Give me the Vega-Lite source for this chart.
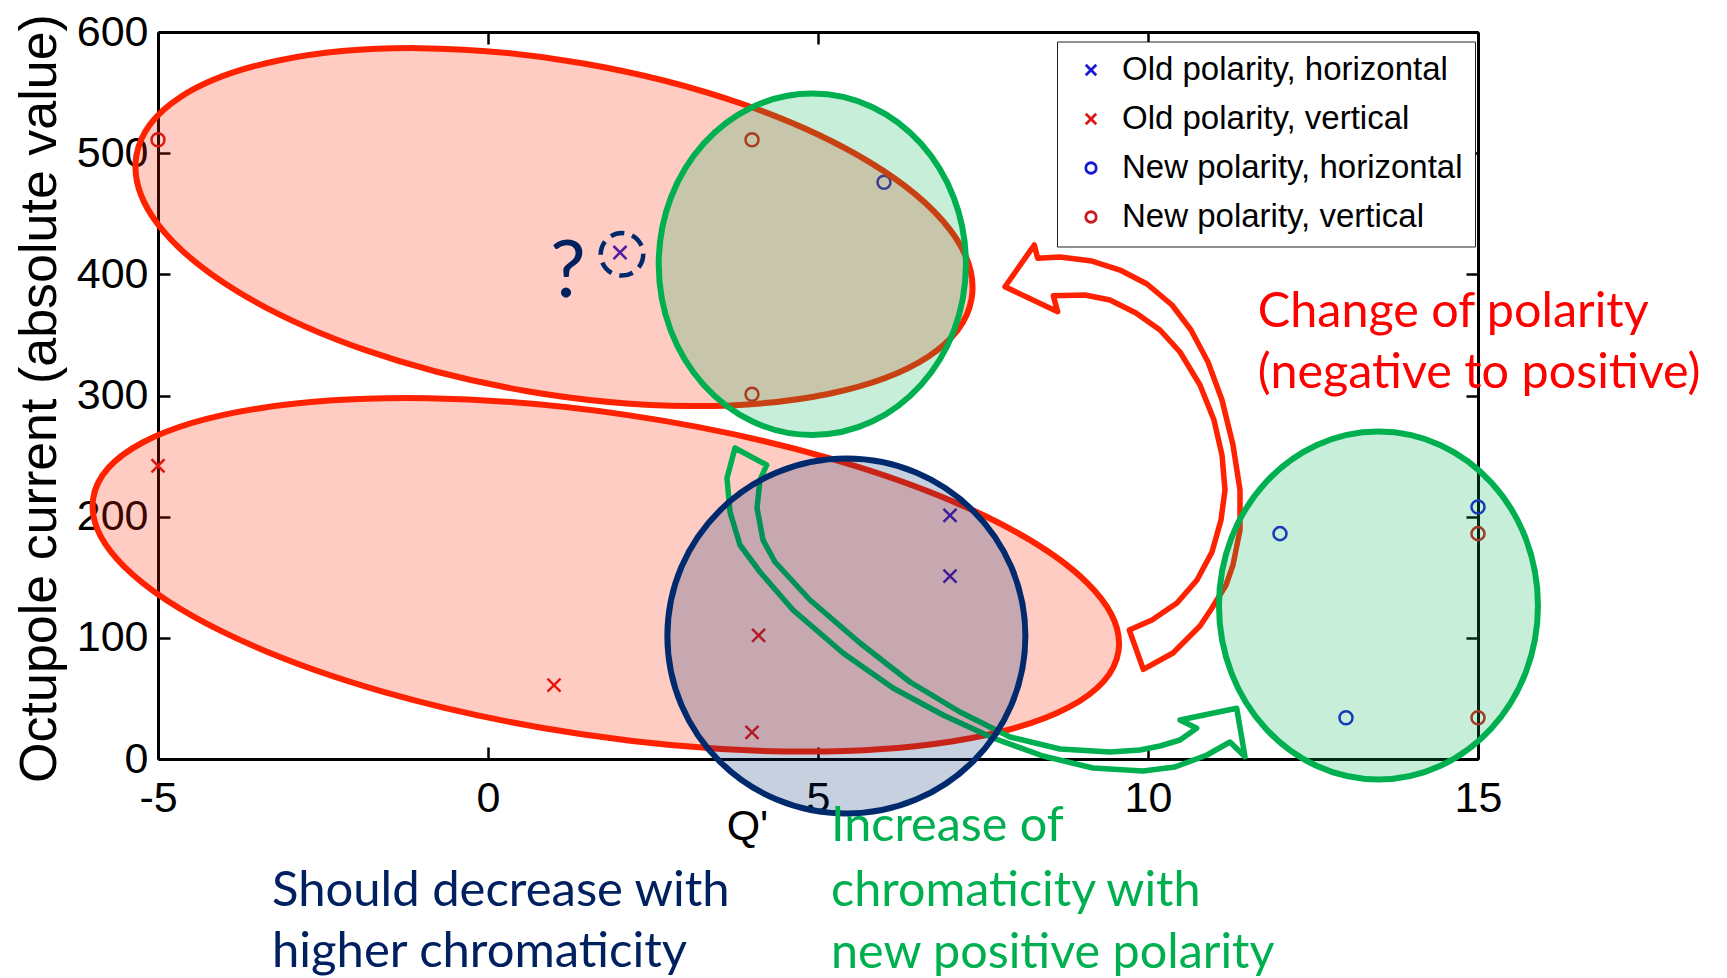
{
  "$schema": "https://vega.github.io/schema/vega-lite/v6.json",
  "width": 1320,
  "height": 727,
  "autosize": {"type": "none"},
  "padding": {"left": 158, "top": 32, "right": 249, "bottom": 219},
  "background": "white",
  "config": {"view": {"stroke": null}, "axis": {"grid": false}},
  "resolve": {"axis": {"x": "independent", "y": "independent"}},
  "layer": [
    {
      "data": {"values": [
        {"x": 2, "y": 418, "series": "Old polarity, horizontal"},
        {"x": 7, "y": 201, "series": "Old polarity, horizontal"},
        {"x": 7, "y": 151, "series": "Old polarity, horizontal"},
        {"x": -5, "y": 242, "series": "Old polarity, vertical"},
        {"x": 1, "y": 61, "series": "Old polarity, vertical"},
        {"x": 4.1, "y": 102, "series": "Old polarity, vertical"},
        {"x": 4, "y": 22, "series": "Old polarity, vertical"},
        {"x": 6, "y": 476, "series": "New polarity, horizontal"},
        {"x": 12, "y": 186, "series": "New polarity, horizontal"},
        {"x": 13, "y": 34, "series": "New polarity, horizontal"},
        {"x": 15, "y": 208, "series": "New polarity, horizontal"},
        {"x": -5, "y": 511, "series": "New polarity, vertical"},
        {"x": 4, "y": 511, "series": "New polarity, vertical"},
        {"x": 4, "y": 301, "series": "New polarity, vertical"},
        {"x": 15, "y": 186, "series": "New polarity, vertical"},
        {"x": 15, "y": 34, "series": "New polarity, vertical"}
      ]},
      "mark": {"type": "point", "filled": false, "size": 170, "strokeWidth": 2.5, "opacity": 1},
      "encoding": {
        "x": {"field": "x", "type": "quantitative", "scale": {"domain": [-5, 15], "nice": false, "zero": false},
          "axis": {"orient": "bottom", "values": [-5, 0, 5, 10, 15], "labelExpr": "'' + datum.value",
            "title": "Q'", "titleFont": "Liberation Sans", "titleFontSize": 43, "titleFontWeight": "normal", "titleColor": "black",
            "titleX": 589, "titleY": 80, "titleAlign": "center", "titleBaseline": "alphabetic", "titleAnchor": null,
            "labelFont": "Liberation Sans", "labelFontSize": 43, "labelColor": "black", "labelPadding": 30,
            "labelFlush": false, "labelOverlap": false, "tickSize": -12, "tickWidth": 2.5, "tickColor": "black",
            "domainColor": "black", "domainWidth": 3, "grid": false}},
        "y": {"field": "y", "type": "quantitative", "scale": {"domain": [0, 600], "nice": false, "zero": false},
          "axis": {"orient": "left", "values": [0, 100, 200, 300, 400, 500, 600], "labelExpr": "'' + datum.value",
            "title": "Octupole current (absolute value)", "titleFont": "Liberation Sans", "titleFontSize": 52, "titleFontWeight": "normal",
            "titleColor": "black", "titleX": -103, "titleY": 366, "titleAngle": -90, "titleAlign": "center", "titleBaseline": "alphabetic", "titleAnchor": null,
            "labelFont": "Liberation Sans", "labelFontSize": 43, "labelColor": "black", "labelPadding": 22,
            "labelFlush": false, "labelOverlap": false, "labelBaseline": "middle", "tickSize": -12, "tickWidth": 2.5, "tickColor": "black",
            "domainColor": "black", "domainWidth": 3, "grid": false}},
        "color": {"field": "series", "type": "nominal",
          "scale": {"domain": ["Old polarity, horizontal", "Old polarity, vertical", "New polarity, horizontal", "New polarity, vertical"],
            "range": ["#1a1ad6", "#dd1515", "#1a1ad6", "#cc1a1a"]},
          "legend": {"title": null, "orient": "none", "legendX": 899, "legendY": 9.5, "labelFont": "Liberation Sans", "labelFontSize": 33,
            "labelColor": "black", "labelLimit": 600, "symbolSize": 110, "symbolStrokeWidth": 2.8, "strokeColor": "#222222",
            "fillColor": "white", "padding": 12, "rowPadding": 15, "symbolOffset": 5.5, "labelOffset": 14.5}},
        "shape": {"field": "series", "type": "nominal",
          "scale": {"domain": ["Old polarity, horizontal", "Old polarity, vertical", "New polarity, horizontal", "New polarity, vertical"],
            "range": ["M-1,-1L1,1M-1,1L1,-1", "M-1,-1L1,1M-1,1L1,-1", "circle", "circle"]},
          "legend": {"title": null, "orient": "none", "legendX": 899, "legendY": 9.5, "labelFont": "Liberation Sans", "labelFontSize": 33,
            "labelColor": "black", "labelLimit": 600, "symbolSize": 110, "symbolStrokeWidth": 2.8, "strokeColor": "#222222",
            "fillColor": "white", "padding": 12, "rowPadding": 15, "symbolOffset": 5.5, "labelOffset": 14.5}}
      }
    },
    {
      "data": {"values": [{"x": -5, "y": 0}]},
      "mark": {"type": "point", "opacity": 0},
      "encoding": {
        "x": {"field": "x", "type": "quantitative", "scale": {"domain": [-5, 15], "nice": false, "zero": false},
          "axis": {"orient": "top", "values": [-5, 0, 5, 10, 15], "labels": false, "title": null, "tickSize": -12, "tickWidth": 2.5,
            "tickColor": "black", "domainColor": "black", "domainWidth": 3, "grid": false}},
        "y": {"field": "y", "type": "quantitative", "scale": {"domain": [0, 600], "nice": false, "zero": false},
          "axis": {"orient": "right", "values": [0, 100, 200, 300, 400, 500, 600], "labels": false, "title": null, "tickSize": -12, "tickWidth": 2.5,
            "tickColor": "black", "domainColor": "black", "domainWidth": 3, "grid": false}}
      }
    },
    {
      "data": {"values": [{"x": 1.0, "y": 439}]},
      "mark": {"type": "point", "shape": "M423.7,0C423.7,91.85,234,166.3,0,166.3C-234,166.3,-423.7,91.85,-423.7,0C-423.7,-91.85,-234,-166.3,0,-166.3C234,-166.3,423.7,-91.85,423.7,0Z",
        "size": 4, "angle": 9.75, "filled": true, "fill": "#ff2200", "fillOpacity": 0.23, "stroke": "#ff2200", "strokeWidth": 6, "opacity": 1},
      "encoding": {
        "x": {"field": "x", "type": "quantitative", "scale": {"domain": [-5, 15], "nice": false, "zero": false}, "axis": null},
        "y": {"field": "y", "type": "quantitative", "scale": {"domain": [0, 600], "nice": false, "zero": false}, "axis": null}
      }
    },
    {
      "data": {"values": [{"x": 1.785, "y": 152}]},
      "mark": {"type": "point", "shape": "M518.3,0C518.3,89,286.3,161.2,0,161.2C-286.3,161.2,-518.3,89,-518.3,0C-518.3,-89,-286.3,-161.2,0,-161.2C286.3,-161.2,518.3,-89,518.3,0Z",
        "size": 4, "angle": 8.46, "filled": true, "fill": "#ff2200", "fillOpacity": 0.23, "stroke": "#ff2200", "strokeWidth": 6, "opacity": 1},
      "encoding": {
        "x": {"field": "x", "type": "quantitative", "scale": {"domain": [-5, 15], "nice": false, "zero": false}, "axis": null},
        "y": {"field": "y", "type": "quantitative", "scale": {"domain": [0, 600], "nice": false, "zero": false}, "axis": null}
      }
    },
    {
      "data": {"values": [{"x": 8, "y": 0}]},
      "mark": {"type": "point", "shape": "M-281,-311L-289,-281L-286,-247L-276,-214L-256,-187L-223,-149L-173,-106L-123,-71L-73,-44L-23,-21L27,-3L77,9L127,12L159,8L191,-4L214,-17L229,-2.3L220.7,-50.7L164,-39L180.7,-30.7L164,-19L144,-13L124,-9L94,-7L44,-10L-6,-22L-56,-47L-106,-77L-156,-116L-206,-159L-241,-197L-253,-219L-259,-251L-256,-279L-249.3,-294Z",
        "size": 4, "filled": false, "stroke": "#00b050", "strokeWidth": 5.5, "strokeJoin": "round", "opacity": 1},
      "encoding": {
        "x": {"field": "x", "type": "quantitative", "scale": {"domain": [-5, 15], "nice": false, "zero": false}, "axis": null},
        "y": {"field": "y", "type": "quantitative", "scale": {"domain": [0, 600], "nice": false, "zero": false}, "axis": null}
      }
    },
    {
      "data": {"values": [{"x": 12, "y": 350}]},
      "mark": {"type": "point", "shape": "M-275,-48.2L-245.7,-89.9L-242.3,-76.6L-220,-77.9L-188,-73.9L-160,-64.9L-133,-50.9L-108,-29.9L-89,-4.9L-72,27.1L-58,65.1L-47,110.1L-40,155.1L-40,195.1L-47,230.1L-54,250.1L-68,273.1L-80,291.1L-107,318.1L-136.7,334.4L-150.7,295.1L-128,285.1L-103,268.1L-83,245.1L-68,217.1L-59,185.1L-55,155.1L-58,120.1L-66,85.1L-80,50.1L-100,17.1L-120,-4.9L-144,-21.9L-170,-34.9L-195,-39.9L-226.7,-39.2L-222.3,-23.2Z",
        "size": 4, "filled": false, "stroke": "#ff2200", "strokeWidth": 5.5, "strokeJoin": "round", "opacity": 1},
      "encoding": {
        "x": {"field": "x", "type": "quantitative", "scale": {"domain": [-5, 15], "nice": false, "zero": false}, "axis": null},
        "y": {"field": "y", "type": "quantitative", "scale": {"domain": [0, 600], "nice": false, "zero": false}, "axis": null}
      }
    },
    {
      "data": {"values": [{"x": 4.914, "y": 408.3}]},
      "mark": {"type": "point", "shape": "M153.6,0C153.6,94.3,84.8,170.7,0,170.7C-84.8,170.7,-153.6,94.3,-153.6,0C-153.6,-94.3,-84.8,-170.7,0,-170.7C84.8,-170.7,153.6,-94.3,153.6,0Z",
        "size": 4, "filled": true, "fill": "#00b050", "fillOpacity": 0.22, "stroke": "#00b050", "strokeWidth": 6, "opacity": 1},
      "encoding": {
        "x": {"field": "x", "type": "quantitative", "scale": {"domain": [-5, 15], "nice": false, "zero": false}, "axis": null},
        "y": {"field": "y", "type": "quantitative", "scale": {"domain": [0, 600], "nice": false, "zero": false}, "axis": null}
      }
    },
    {
      "data": {"values": [{"x": 13.492, "y": 126.7}]},
      "mark": {"type": "point", "shape": "M159.5,0C159.5,96.1,88.1,174,0,174C-88.1,174,-159.5,96.1,-159.5,0C-159.5,-96.1,-88.1,-174,0,-174C88.1,-174,159.5,-96.1,159.5,0Z",
        "size": 4, "filled": true, "fill": "#00b050", "fillOpacity": 0.22, "stroke": "#00b050", "strokeWidth": 6, "opacity": 1},
      "encoding": {
        "x": {"field": "x", "type": "quantitative", "scale": {"domain": [-5, 15], "nice": false, "zero": false}, "axis": null},
        "y": {"field": "y", "type": "quantitative", "scale": {"domain": [0, 600], "nice": false, "zero": false}, "axis": null}
      }
    },
    {
      "data": {"values": [{"x": 5.43, "y": 101.5}]},
      "mark": {"type": "point", "shape": "M179,0C179,98,98.9,177.5,0,177.5C-98.9,177.5,-179,98,-179,0C-179,-98,-98.9,-177.5,0,-177.5C98.9,-177.5,179,-98,179,0Z",
        "size": 4, "filled": true, "fill": "#002a6e", "fillOpacity": 0.22, "stroke": "#002a6e", "strokeWidth": 6, "opacity": 1},
      "encoding": {
        "x": {"field": "x", "type": "quantitative", "scale": {"domain": [-5, 15], "nice": false, "zero": false}, "axis": null},
        "y": {"field": "y", "type": "quantitative", "scale": {"domain": [0, 600], "nice": false, "zero": false}, "axis": null}
      }
    },
    {
      "data": {"values": [{"x": 2.03, "y": 416.5}]},
      "mark": {"type": "point", "shape": "circle", "size": 1810, "filled": false, "stroke": "#002a6e", "strokeWidth": 4.5, "strokeDash": [14, 8], "opacity": 1},
      "encoding": {
        "x": {"field": "x", "type": "quantitative", "scale": {"domain": [-5, 15], "nice": false, "zero": false}, "axis": null},
        "y": {"field": "y", "type": "quantitative", "scale": {"domain": [0, 600], "nice": false, "zero": false}, "axis": null}
      }
    },
    {
      "data": {"values": [{"x": 1.212, "y": 381.3, "t": "?"}]},
      "mark": {"type": "text", "font": "Lato", "fontSize": 80, "fill": "#002060", "align": "center", "baseline": "alphabetic"},
      "encoding": {
        "x": {"field": "x", "type": "quantitative", "scale": {"domain": [-5, 15], "nice": false, "zero": false}, "axis": null},
        "y": {"field": "y", "type": "quantitative", "scale": {"domain": [0, 600], "nice": false, "zero": false}, "axis": null},
        "text": {"field": "t"}
      }
    },
    {
      "data": {"values": [
        {"x": 11.664, "y": 356.9, "t": "Change of polarity"},
        {"x": 11.664, "y": 306.2, "t": "(negative to positive)"}
      ]},
      "mark": {"type": "text", "font": "Lato", "fontSize": 48.5, "fill": "#ff0000", "align": "left", "baseline": "alphabetic"},
      "encoding": {
        "x": {"field": "x", "type": "quantitative", "scale": {"domain": [-5, 15], "nice": false, "zero": false}, "axis": null},
        "y": {"field": "y", "type": "quantitative", "scale": {"domain": [0, 600], "nice": false, "zero": false}, "axis": null},
        "text": {"field": "t"}
      }
    },
    {
      "data": {"values": [
        {"x": -3.273, "y": -121, "t": "Should decrease with"},
        {"x": -3.273, "y": -171.7, "t": "higher chromaticity"}
      ]},
      "mark": {"type": "text", "font": "Lato", "fontSize": 49, "fill": "#002060", "align": "left", "baseline": "alphabetic"},
      "encoding": {
        "x": {"field": "x", "type": "quantitative", "scale": {"domain": [-5, 15], "nice": false, "zero": false}, "axis": null},
        "y": {"field": "y", "type": "quantitative", "scale": {"domain": [0, 600], "nice": false, "zero": false}, "axis": null},
        "text": {"field": "t"}
      }
    },
    {
      "data": {"values": [
        {"x": 5.197, "y": -67.4, "t": "Increase of"},
        {"x": 5.197, "y": -121, "t": "chromaticity with"},
        {"x": 5.197, "y": -172.9, "t": "new positive polarity"}
      ]},
      "mark": {"type": "text", "font": "Lato", "fontSize": 48.5, "fill": "#00b050", "align": "left", "baseline": "alphabetic"},
      "encoding": {
        "x": {"field": "x", "type": "quantitative", "scale": {"domain": [-5, 15], "nice": false, "zero": false}, "axis": null},
        "y": {"field": "y", "type": "quantitative", "scale": {"domain": [0, 600], "nice": false, "zero": false}, "axis": null},
        "text": {"field": "t"}
      }
    }
  ]
}
